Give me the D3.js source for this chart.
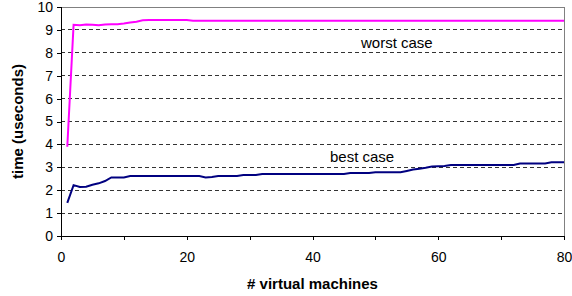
<!DOCTYPE html>
<html>
<head>
<meta charset="utf-8">
<script src="https://cdn.jsdelivr.net/npm/d3@7"></script>
<style>
  body { margin: 0; background: #fff; }
  svg { display: block; font-family: Arial, "Liberation Sans", sans-serif; }
</style>
</head>
<body>
<div id="chart"></div>
<script>
// time (useconds) for 1..80 virtual machines
const vmCounts = d3.range(1, 81);

const worstCase = [
  3.9, 9.22, 9.2, 9.24, 9.23, 9.2, 9.24, 9.25, 9.25, 9.28,
  9.32, 9.36, 9.42, 9.43, 9.43, 9.43, 9.43, 9.43, 9.43, 9.43,
  9.4, 9.4, 9.4, 9.4, 9.4, 9.4, 9.4, 9.4, 9.4, 9.4,
  9.4, 9.4, 9.4, 9.4, 9.4, 9.4, 9.4, 9.4, 9.4, 9.4,
  9.4, 9.4, 9.4, 9.4, 9.4, 9.4, 9.4, 9.4, 9.4, 9.4,
  9.4, 9.4, 9.4, 9.4, 9.4, 9.4, 9.4, 9.4, 9.4, 9.4,
  9.4, 9.4, 9.4, 9.4, 9.4, 9.4, 9.4, 9.4, 9.4, 9.4,
  9.4, 9.4, 9.4, 9.4, 9.4, 9.4, 9.4, 9.4, 9.4, 9.4
];

const bestCase = [
  1.45, 2.22, 2.14, 2.15, 2.24, 2.3, 2.4, 2.56, 2.56, 2.56,
  2.62, 2.62, 2.62, 2.62, 2.62, 2.62, 2.62, 2.62, 2.62, 2.62,
  2.62, 2.62, 2.56, 2.58, 2.62, 2.62, 2.62, 2.62, 2.66, 2.66,
  2.66, 2.71, 2.71, 2.71, 2.71, 2.71, 2.71, 2.71, 2.71, 2.71,
  2.71, 2.71, 2.71, 2.71, 2.71, 2.75, 2.75, 2.75, 2.75, 2.78,
  2.78, 2.78, 2.78, 2.78, 2.84, 2.9, 2.94, 2.98, 3.03, 3.05,
  3.06, 3.1, 3.1, 3.1, 3.1, 3.1, 3.1, 3.1, 3.1, 3.1,
  3.1, 3.1, 3.17, 3.17, 3.17, 3.17, 3.17, 3.22, 3.22, 3.22
];

const yTicks = d3.range(0, 11);
const xTicks = [0, 10, 20, 30, 40, 50, 60, 70, 80];
const xLabels = [0, 20, 40, 60, 80];

const W = 572, H = 296;
const margin = { top: 7, right: 8, bottom: 60, left: 61 };

const svg = d3.select("#chart").append("svg")
  .attr("width", W)
  .attr("height", H);

const x = d3.scaleLinear().domain([0, 80]).range([margin.left, W - margin.right]);
const y = d3.scaleLinear().domain([0, 10]).range([H - margin.bottom, margin.top]);

// dashed gridlines
svg.append("g")
  .selectAll("line")
  .data(yTicks.filter(d => d > 0 && d < 10))
  .enter().append("line")
  .attr("x1", x(0)).attr("x2", x(80))
  .attr("y1", d => y(d)).attr("y2", d => y(d))
  .attr("stroke", "#333")
  .attr("stroke-width", 1)
  .attr("stroke-dasharray", "4,3")
  .attr("shape-rendering", "crispEdges");

// plot frame (top & right, gray)
svg.append("path")
  .attr("d", `M${x(0)},${y(10)}H${x(80)}V${y(0)}`)
  .attr("fill", "none")
  .attr("stroke", "#808080")
  .attr("shape-rendering", "crispEdges");

// axes
const yAxis = d3.axisLeft(y).tickValues(yTicks).tickSize(4).tickPadding(4).tickFormat(d3.format("d"));
const xAxis = d3.axisBottom(x).tickValues(xTicks).tickSize(4).tickPadding(12)
  .tickFormat(d => xLabels.includes(d) ? d : "");

const gy = svg.append("g")
  .attr("transform", `translate(${x(0)},0)`)
  .call(yAxis);
const gx = svg.append("g")
  .attr("transform", `translate(0,${y(0)})`)
  .call(xAxis);

[gx, gy].forEach(g => {
  g.select(".domain").attr("stroke", "#000").attr("shape-rendering", "crispEdges");
  g.selectAll(".tick line").attr("stroke", "#000").attr("shape-rendering", "crispEdges");
  g.selectAll("text")
    .attr("fill", "#000")
    .style("font-size", "14px")
    .style("font-family", "Arial, 'Liberation Sans', sans-serif");
});
gx.select(".domain").attr("d", `M${x(0)},0H${x(80)}`);
gy.select(".domain").attr("d", `M0,${y(0)}V${y(10)}`);

// lines
const line = data => d3.line()
  .x((d, i) => x(vmCounts[i]))
  .y(d => y(d))(data);

svg.append("path")
  .attr("d", line(worstCase))
  .attr("fill", "none")
  .attr("stroke", "#ff00ff")
  .attr("stroke-width", 2);

svg.append("path")
  .attr("d", line(bestCase))
  .attr("fill", "none")
  .attr("stroke", "#000080")
  .attr("stroke-width", 2);

// annotations
svg.append("text")
  .attr("x", 361).attr("y", 48)
  .style("font-size", "15px")
  .text("worst case");

svg.append("text")
  .attr("x", 330).attr("y", 162)
  .style("font-size", "15px")
  .text("best case");

// axis titles
svg.append("text")
  .attr("transform", `translate(23,${(y(0) + y(10)) / 2}) rotate(-90)`)
  .attr("text-anchor", "middle")
  .style("font-size", "15px")
  .style("font-weight", "bold")
  .text("time (useconds)");

svg.append("text")
  .attr("x", (x(0) + x(80)) / 2)
  .attr("y", 289)
  .attr("text-anchor", "middle")
  .style("font-size", "15px")
  .style("font-weight", "bold")
  .text("# virtual machines");
</script>
</body>
</html>
